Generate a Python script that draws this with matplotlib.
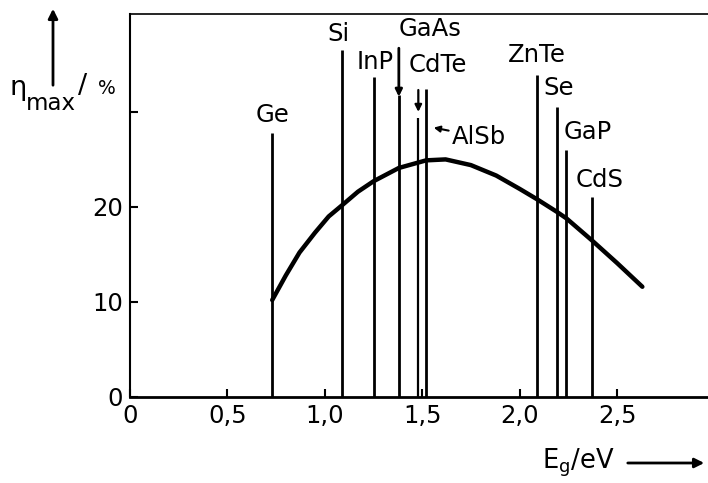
import matplotlib
matplotlib.use('Agg')
import matplotlib.pyplot as plt

# band gaps of the semiconductors (eV) and how high each marker line reaches (%)
materials = ['Ge', 'Si', 'InP', 'GaAs', 'CdTe', 'AlSb', 'ZnTe', 'Se', 'GaP', 'CdS']
gaps = [0.73, 1.09, 1.25, 1.38, 1.48, 1.52, 2.09, 2.19, 2.24, 2.37]
line_tops = [27.8, 36.5, 33.7, 36.7, 32.3, 32.4, 33.9, 30.5, 26.0, 21.0]

# maximum efficiency curve
curve_eg = [0.73, 0.80, 0.87, 0.95, 1.02, 1.09, 1.17, 1.25, 1.38, 1.52,
            1.62, 1.75, 1.88, 2.00, 2.09, 2.19, 2.24, 2.37, 2.50, 2.63]
curve_eta = [10.2, 12.8, 15.2, 17.3, 19.0, 20.2, 21.6, 22.7, 24.1, 24.9,
             25.0, 24.4, 23.3, 21.9, 20.8, 19.5, 18.8, 16.5, 14.1, 11.6]

x_ticks = [0, 0.5, 1.0, 1.5, 2.0, 2.5]
x_ticklabels = ['0', '0,5', '1,0', '1,5', '2,0', '2,5']
y_ticks = [0, 10, 20, 30]
y_ticklabels = ['0', '10', '20', '']

# label anchor points (x, y of text bottom)
label_pos = {
    'Ge': (0.73, 28.4), 'Si': (1.07, 36.9), 'InP': (1.26, 34.0),
    'GaAs': (1.54, 37.5), 'CdTe': (1.58, 33.7), 'ZnTe': (2.09, 34.7),
    'Se': (2.20, 31.2), 'GaP': (2.35, 26.6), 'CdS': (2.41, 21.6),
}

fs = 17.5
fig = plt.figure(figsize=(7.08, 4.83), dpi=100)
ax = fig.add_axes([130 / 708, 86 / 483, 578 / 708, 383 / 483])
ax.set_xlim(0, 2.967)
ax.set_ylim(0, 40.3)

for name, g, top in zip(materials, gaps, line_tops):
    if name == 'GaAs':
        ax.vlines(g, 0, 31.8, color='black', lw=2)
        ax.annotate('', xy=(g, 31.6), xytext=(g, top),
                    arrowprops=dict(arrowstyle='-|>', color='black', lw=2,
                                    mutation_scale=10, shrinkA=0, shrinkB=0))
    elif name == 'CdTe':
        ax.vlines(g, 0, 29.4, color='black', lw=1.6)
        ax.annotate('', xy=(g, 30.0), xytext=(g, top),
                    arrowprops=dict(arrowstyle='-|>', color='black', lw=1.6,
                                    mutation_scale=10, shrinkA=0, shrinkB=0))
    else:
        ax.vlines(g, 0, top, color='black', lw=2)

for name, (lx, ly) in label_pos.items():
    ax.text(lx, ly, name, ha='center', va='bottom', fontsize=fs)

# AlSb label with arrow pointing at its line
ax.annotate('AlSb', xy=(1.545, 28.4), xytext=(1.65, 27.4),
            fontsize=fs, va='center', ha='left',
            arrowprops=dict(arrowstyle='-|>', color='black', lw=1.5,
                            mutation_scale=9, shrinkA=0, shrinkB=2))

ax.plot(curve_eg, curve_eta, color='black', lw=3.2, solid_capstyle='round')

ax.spines['right'].set_visible(False)
ax.spines['left'].set_linewidth(1.5)
ax.spines['bottom'].set_linewidth(2)
ax.spines['top'].set_linewidth(1.2)

ax.set_xticks(x_ticks)
ax.set_xticklabels(x_ticklabels)
ax.set_yticks(y_ticks)
ax.set_yticklabels(y_ticklabels)
ax.tick_params(direction='in', length=6, width=1.5, labelsize=fs)
ax.tick_params(axis='x', pad=5)
ax.tick_params(axis='y', pad=5)

# axis titles with arrows, as in the original
fig.text(10 / 708, 1 - 88 / 483, 'η', fontsize=fs + 2, ha='left', va='center')
fig.text(26 / 708, 1 - 104 / 483, 'max', fontsize=fs - 1, ha='left', va='center')
fig.text(78 / 708, 1 - 86 / 483, '/', fontsize=fs + 2, ha='left', va='center')
fig.text(98 / 708, 1 - 88 / 483, '%', fontsize=fs - 4, ha='left', va='center')
fig.add_artist(matplotlib.patches.FancyArrowPatch(
    (53 / 708, 1 - 88 / 483), (53 / 708, 1 - 6 / 483),
    transform=fig.transFigure, arrowstyle='-|>', color='black', lw=2,
    mutation_scale=14))
fig.text(542 / 708, 1 - 463 / 483, r'E$_{\mathregular{g}}$/eV', fontsize=fs + 1,
         ha='left', va='center')
fig.add_artist(matplotlib.patches.FancyArrowPatch(
    (625 / 708, 1 - 463 / 483), (707 / 708, 1 - 463 / 483),
    transform=fig.transFigure, arrowstyle='-|>', color='black', lw=2,
    mutation_scale=14))

fig.savefig('out.png', dpi=100)
